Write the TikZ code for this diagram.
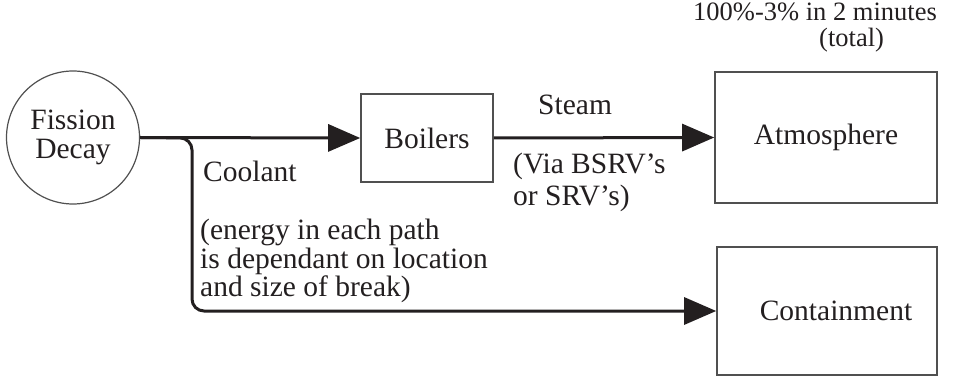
\documentclass[tikz,border=0pt]{standalone}
\usepackage{fontspec}
\setmainfont{Liberation Serif}
\usetikzlibrary{arrows.meta}
\definecolor{ink}{HTML}{231F20}
\definecolor{edge}{HTML}{505050}
\tikzset{
  x=1pt, y=1pt,
  every node/.style={text=ink, font=\fontsize{29.5}{28.5}\selectfont},
  boxnode/.style={draw=edge, line width=1.6pt, rectangle, inner sep=0pt},
  ringnode/.style={draw=edge, line width=1.2pt, circle, inner sep=0pt, minimum size=133pt},
  flow/.style={draw=ink, line width=3pt, -{Triangle[length=32pt, width=27pt]}},
  lbl/.style={inner sep=0pt, align=left},
}
\begin{document}
\begin{tikzpicture}
\useasboundingbox (0,0) rectangle (965,-379);
\node[ringnode, align=center] (fission) at (73,-137.5) {Fission\\Decay};
\node[boxnode, minimum width=132pt, minimum height=88pt] (boilers) at (427,-138) {Boilers};
\node[boxnode, minimum width=222pt, minimum height=131pt] (atm) at (826,-137.5) {Atmosphere};
\node[boxnode, minimum width=220pt, minimum height=128pt] (cont) at (827,-311) {\hspace*{18pt}Containment};

\coordinate (bend) at (192,-138);
\draw[flow] (fission.east) -- (boilers.west);
\draw[flow] (boilers.east) -- (atm.west);
\draw[flow, rounded corners=12pt] (fission.east) -- (bend) -- (bend |- cont.west) -- (cont.west);

\node[lbl, anchor=base west] (coolant) at (203,-182) {Coolant};
\node[lbl, anchor=north west] (energy) at (200,-219) {(energy in each path\\is dependant on location\\and size of break)};
\node[lbl, anchor=base west] (steam) at (538,-115) {Steam};
\node[lbl, anchor=north west, font=\fontsize{29.5}{32}\selectfont] (via) at (513,-152.5) {(Via BSRV’s\\or SRV’s)};
\node[lbl, anchor=north west, font=\fontsize{26.5}{26}\selectfont] (total) at (693,-3) {100\%-3\% in 2 minutes\\\hspace*{126pt}(total)};
\end{tikzpicture}
\end{document}
